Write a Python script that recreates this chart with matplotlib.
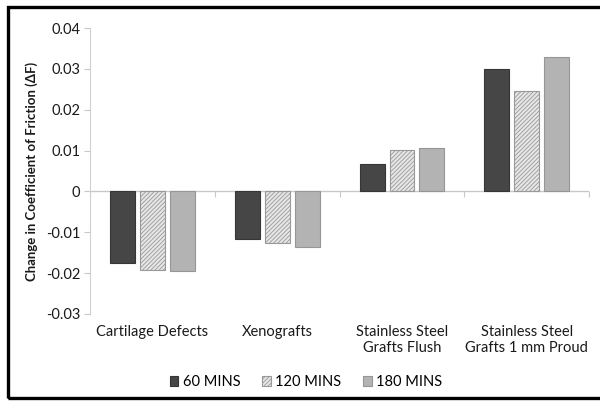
import matplotlib.pyplot as plt
import numpy as np
from matplotlib.patches import Rectangle

plt.rcParams['font.family'] = ['Lato', 'DejaVu Sans']

# --- data ---
categories = ['Cartilage Defects', 'Xenografts', 'Stainless Steel\nGrafts Flush',
              'Stainless Steel\nGrafts 1 mm Proud']
series_names = ['60 MINS', '120 MINS', '180 MINS']
mins_60 = [-0.0174, -0.0117, 0.0068, 0.0300]
mins_120 = [-0.0192, -0.0125, 0.0101, 0.0247]
mins_180 = [-0.0194, -0.0136, 0.0107, 0.0329]
y_ticks = [-0.03, -0.02, -0.01, 0, 0.01, 0.02, 0.03, 0.04]
y_tick_labels = ['-0.03', '-0.02', '-0.01', '0', '0.01', '0.02', '0.03', '0.04']

fig = plt.figure(figsize=(6, 4.01), dpi=100)
ax = fig.add_axes([0.15, 0.217, 0.832, 0.713])

x = np.arange(len(categories))
w = 0.2
off = 0.24
plt.rcParams['hatch.linewidth'] = 0.6
ax.bar(x - off, mins_60, w, color='#464646', edgecolor='#363636', linewidth=0.8, label=series_names[0])
ax.bar(x, mins_120, w, color='#e6e6e6', edgecolor='#999999', hatch='////////', linewidth=0.8, label=series_names[1])
ax.bar(x + off, mins_180, w, color='#b3b3b3', edgecolor='#969696', linewidth=0.8, label=series_names[2])

ax.set_xlim(-0.5, len(categories) - 0.5)
ax.set_ylim(-0.03, 0.04)

# y axis
ax.set_yticks(y_ticks)
ax.set_yticklabels(y_tick_labels, fontsize=10.5, color='#1a1a1a')
ax.tick_params(axis='y', length=4, color='#c8c8c8', pad=3)
for s in ['top', 'right', 'bottom']:
    ax.spines[s].set_visible(False)
ax.spines['left'].set_color('#d0d0d0')

# category labels at bottom
ax.set_xticks(x)
ax.set_xticklabels(categories, fontsize=10.5, color='#1a1a1a', linespacing=1.15)
ax.tick_params(axis='x', length=0, pad=8)

# zero line with category separators
ax.axhline(0, color='#c8c8c8', linewidth=1, zorder=0)
sec = ax.secondary_xaxis(3 / 7)
sec.set_xticks(np.arange(len(categories) + 1) - 0.5)
sec.set_xticklabels([])
sec.tick_params(axis='x', length=4, color='#c8c8c8', direction='out')
sec.spines['bottom'].set_visible(False)

ax.set_ylabel('Change in Coefficient of Friction (\u0394F)', fontsize=9.5,
              fontweight='bold', color='#1a1a1a', labelpad=6)

fig.legend(loc='center', bbox_to_anchor=(0.51, 0.047), ncol=3, frameon=False,
           fontsize=10.5, handlelength=0.6, handleheight=0.6,
           handletextpad=0.3, columnspacing=1.5)

# outer frame
fig.add_artist(Rectangle((0.0125, 0.008), 1.2, 0.975, transform=fig.transFigure,
                         fill=False, edgecolor='black', linewidth=2.4))

fig.savefig('out.png', dpi=100)
